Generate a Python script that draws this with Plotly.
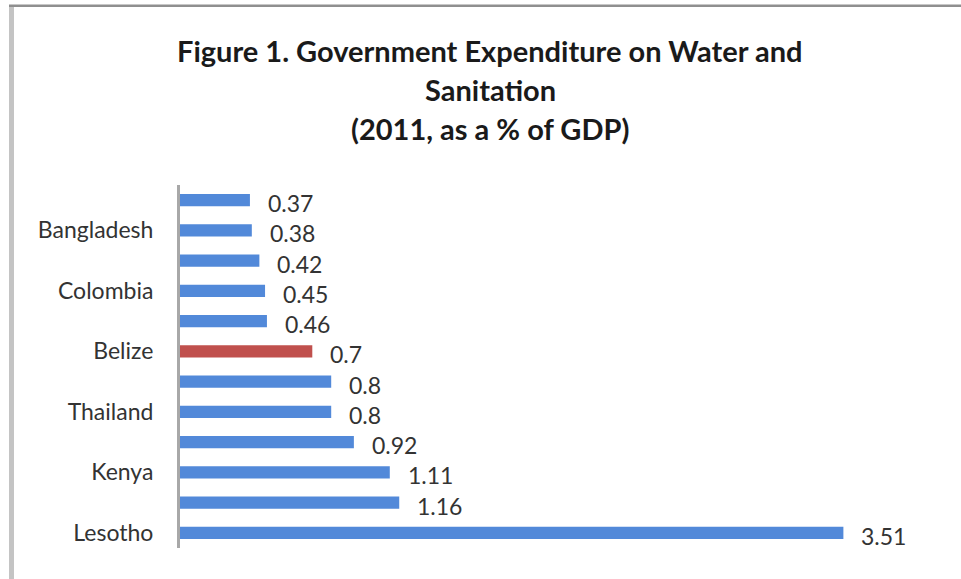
import plotly.graph_objects as go

# Data (top to bottom as shown in the chart); unlabeled rows have empty labels
labels = ["", "Bangladesh", "", "Colombia", "", "Belize", "", "Thailand", "", "Kenya", "", "Lesotho"]
values = [0.37, 0.38, 0.42, 0.45, 0.46, 0.7, 0.8, 0.8, 0.92, 1.11, 1.16, 3.51]
value_text = ["0.37", "0.38", "0.42", "0.45", "0.46", "0.7", "0.8", "0.8", "0.92", "1.11", "1.16", "3.51"]
highlight = "Belize"
title_lines = ["Figure 1. Government Expenditure on Water and", "Sanitation", "(2011, as a % of GDP)"]

W, H = 961, 579
L, R, T, B = 180, 25, 185, 31
PW, PH = W - L - R, H - T - B

BLUE = "#5289D9"
RED = "#C0504D"
FONT = "Lato"

pos = list(range(len(values)))
colors = [RED if lab == highlight else BLUE for lab in labels]


def px_x(px):
    return (px - L) / PW


def px_y(py):
    return 1 - (py - T) / PH


fig = go.Figure()
fig.add_trace(go.Bar(
    x=values, y=pos, orientation="h",
    marker=dict(color=colors, line=dict(width=0)),
    width=0.4, hoverinfo="skip",
))

annotations = []
for p, v, t in zip(pos, values, value_text):
    annotations.append(dict(
        x=v, y=p, xref="x", yref="y", text=t, showarrow=False,
        xanchor="left", yanchor="middle", xshift=16, yshift=-3,
        font=dict(family=FONT, size=23, color="#333333"),
    ))

title_centers = [50, 89, 128]
for line, cy in zip(title_lines, title_centers):
    annotations.append(dict(
        x=px_x(490), y=px_y(cy), xref="paper", yref="paper",
        text="<b>" + line + "</b>", showarrow=False,
        xanchor="center", yanchor="middle",
        font=dict(family=FONT, size=29, color="#1a1a1a"),
    ))

shapes = [
    # left frame edge
    dict(type="rect", xref="paper", yref="paper",
         x0=px_x(9), x1=px_x(14), y0=px_y(H + 5), y1=px_y(5),
         fillcolor="#C4C4C4", line=dict(width=0), layer="above"),
    # top frame edge
    dict(type="rect", xref="paper", yref="paper",
         x0=px_x(9), x1=px_x(W + 5), y0=px_y(7), y1=px_y(4.5),
         fillcolor="#8F8F8F", line=dict(width=0), layer="above"),
]

fig.update_layout(
    width=W, height=H,
    margin=dict(l=L, r=R, t=T, b=B),
    paper_bgcolor="white", plot_bgcolor="white",
    showlegend=False,
    xaxis=dict(range=[0, 4], visible=False, fixedrange=True),
    yaxis=dict(
        range=[len(values) - 0.5, -0.5],
        tickvals=[p for p, lab in zip(pos, labels) if lab],
        ticktext=[lab for lab in labels if lab],
        ticks="", ticklabelstandoff=19,
        showline=True, linecolor="#A8A8A8", linewidth=3,
        showgrid=False, zeroline=False,
        tickfont=dict(family=FONT, size=23, color="#333333"),
    ),
    annotations=annotations,
    shapes=shapes,
)

fig.write_html("out.html")
